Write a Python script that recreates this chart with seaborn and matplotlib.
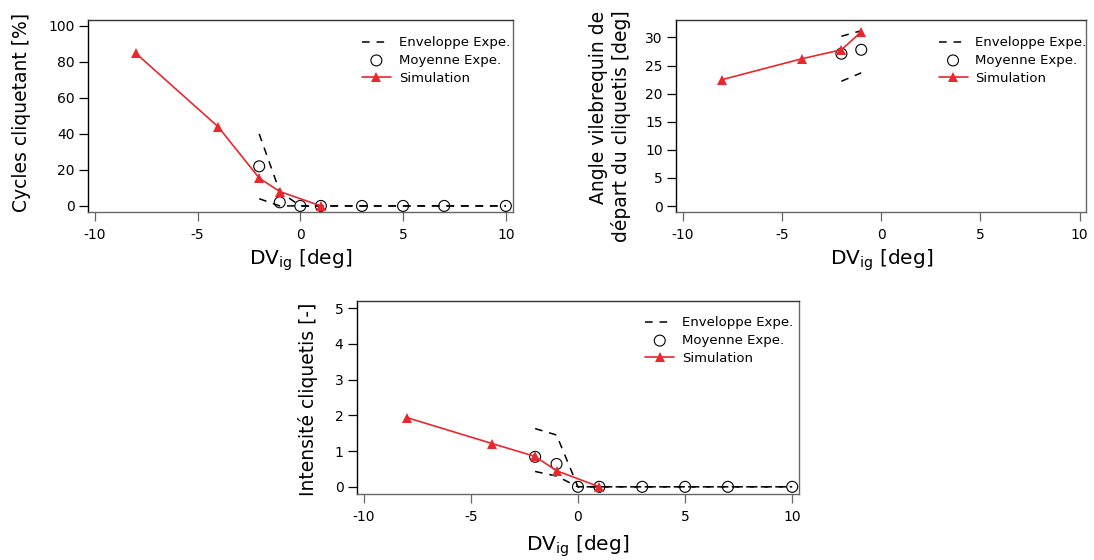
import matplotlib
matplotlib.use("Agg")
import matplotlib.pyplot as plt
import seaborn as sns

# DV_ig [deg]
sim_x = [-8, -4, -2, -1, 1]
moy_x = [-2, -1, 0, 1, 3, 5, 7, 10]
env_x = [-2, -1, 0, 1, 3, 5, 7, 10]

# Cycles cliquetant [%]
cyc_sim = [84.8, 44, 15.5, 8, 0]
cyc_moy = [22, 2, 0, 0, 0, 0, 0, 0]
cyc_env_hi = [40, 8, 0, 0, 0, 0, 0, 0]
cyc_env_lo = [4, 0, 0, 0, 0, 0, 0, 0]

# Angle vilebrequin de depart du cliquetis [deg]
ang_sim_x = [-8, -4, -2, -1]
ang_sim = [22.5, 26.2, 27.8, 31.0]
ang_moy_x = [-2, -1]
ang_moy = [27.1, 27.8]
ang_env_x = [-2, -1]
ang_env_hi = [30.2, 31.2]
ang_env_lo = [22.2, 23.7]

# Intensite cliquetis [-]
int_sim = [1.94, 1.21, 0.85, 0.45, 0]
int_moy = [0.84, 0.64, 0, 0, 0, 0, 0, 0]
int_env_hi = [1.63, 1.45, 0, 0, 0, 0, 0, 0]
int_env_lo = [0.43, 0.3, 0, 0, 0, 0, 0, 0]

xticks = [-10, -5, 0, 5, 10]
labels = ["Enveloppe Expe.", "Moyenne Expe.", "Simulation"]
RED = "#e8282d"

sns.set_style("ticks")
plt.rcParams["font.family"] = ["DejaVu Sans"]
plt.rcParams["lines.dashed_pattern"] = [5, 4.5]
plt.rcParams["axes.unicode_minus"] = False
for k in ["text.color", "axes.labelcolor", "xtick.labelcolor", "ytick.labelcolor",
          "ytick.color"]:
    plt.rcParams[k] = "black"

fig = plt.figure(figsize=(10.94, 5.6), dpi=100)
ax1 = fig.add_axes([0.0804, 0.622, 0.3882, 0.3423])
ax2 = fig.add_axes([0.618, 0.622, 0.3748, 0.3423])
ax3 = fig.add_axes([0.326, 0.1179, 0.4046, 0.3446])


def draw(ax, ex, hi, lo, mx, my, sx, sy, ylim, yticks, ylabel, ylab_xy, xlab_xy, leg_xy):
    sns.lineplot(x=ex, y=hi, ax=ax, color="black", linestyle="--", lw=1.1,
                 label=labels[0])
    sns.lineplot(x=ex, y=lo, ax=ax, color="black", linestyle="--", lw=1.1)
    sns.scatterplot(x=mx, y=my, ax=ax, marker="o", s=62, facecolor="none",
                    edgecolor="black", linewidth=0.8, label=labels[1], zorder=3)
    sns.lineplot(x=sx, y=sy, ax=ax, color=RED, lw=1.2, marker="^",
                 markersize=7, markeredgewidth=0, label=labels[2], zorder=4)

    ax.set_xlim(-10.33, 10.33)
    ax.set_ylim(*ylim)
    ax.set_xticks(xticks)
    ax.set_yticks(yticks)
    ax.tick_params(axis="both", labelsize=10, length=6.5, width=0.9, pad=3,
                   direction="out", labelcolor="black")
    ax.tick_params(axis="x", color="#666666", pad=5)
    ax.tick_params(axis="y", color="black")
    for side, c in [("left", "black"), ("top", "#333333"),
                    ("right", "#666666"), ("bottom", "#666666")]:
        ax.spines[side].set_visible(True)
        ax.spines[side].set_color(c)
        ax.spines[side].set_linewidth(1.0)

    ax.set_ylabel(ylabel, fontsize=13.5, multialignment="right", color="black")
    ax.yaxis.set_label_coords(*ylab_xy)
    ax.set_xlabel(r"DV$_{\mathregular{ig}}$ [deg]", fontsize=14.5, color="black")
    ax.xaxis.set_label_coords(*xlab_xy)

    h, l = ax.get_legend_handles_labels()
    hd = dict(zip(l, h))
    ax.legend([hd[k] for k in labels], labels, loc="upper left",
              bbox_to_anchor=leg_xy, frameon=False, fontsize=9.5,
              handlelength=2.2, handletextpad=0.6, labelspacing=0.35,
              borderaxespad=0, borderpad=0)


draw(ax1, env_x, cyc_env_hi, cyc_env_lo, moy_x, cyc_moy, sim_x, cyc_sim,
     (-3.2, 103.3), range(0, 101, 20), "Cycles cliquetant [%]",
     (-0.135, 0.52), (0.5, -0.185), (0.645, 0.915))
draw(ax2, ang_env_x, ang_env_hi, ang_env_lo, ang_moy_x, ang_moy, ang_sim_x, ang_sim,
     (-1.0, 33.1), range(0, 31, 5),
     "Angle vilebrequin de\ndépart du cliquetis [deg]",
     (-0.11, 0.444), (0.5, -0.185), (0.64, 0.915))
draw(ax3, env_x, int_env_hi, int_env_lo, moy_x, int_moy, sim_x, int_sim,
     (-0.2, 5.2), range(0, 6), "Intensité cliquetis [-]",
     (-0.087, 0.49), (0.5, -0.205), (0.652, 0.92))

fig.savefig("out.png", dpi=100)
